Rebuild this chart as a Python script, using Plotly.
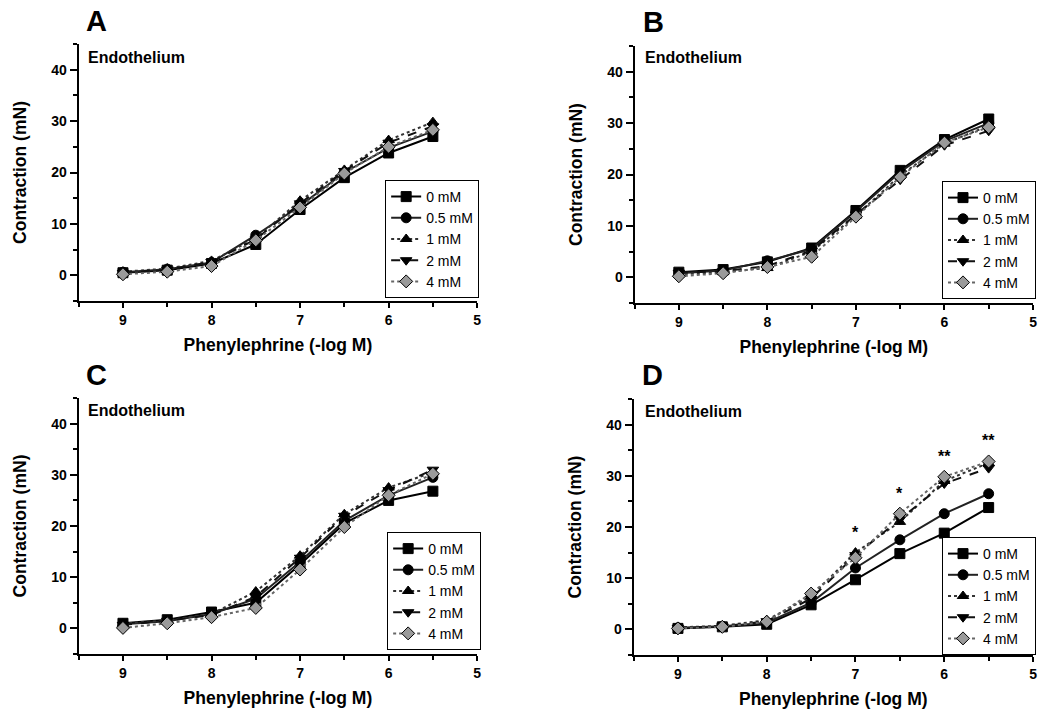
import plotly.graph_objects as go

# ---------------- data ----------------
doses = [9, 8.5, 8, 7.5, 7, 6.5, 6, 5.5]          # Phenylephrine (-log M)
series_names = ["0 mM", "0.5 mM", "1 mM", "2 mM", "4 mM"]

A_vals = {
    "0 mM":   [0.5, 1.0, 2.3, 6.0, 12.8, 19.0, 23.8, 27.0],
    "0.5 mM": [0.6, 1.2, 2.5, 7.8, 13.5, 20.0, 24.8, 28.0],
    "1 mM":   [0.7, 1.3, 2.8, 7.2, 14.5, 20.5, 26.3, 29.8],
    "2 mM":   [0.5, 1.1, 2.6, 7.0, 14.0, 20.3, 25.8, 29.0],
    "4 mM":   [0.2, 0.7, 1.8, 6.8, 13.2, 19.8, 25.0, 28.3],
}
B_vals = {
    "0 mM":   [1.0, 1.5, 3.0, 5.7, 13.0, 20.8, 26.8, 30.8],
    "0.5 mM": [0.8, 1.3, 3.2, 5.5, 12.8, 20.5, 26.5, 30.0],
    "1 mM":   [0.6, 1.0, 1.8, 5.0, 12.0, 19.8, 26.0, 29.5],
    "2 mM":   [0.9, 1.2, 2.2, 5.2, 12.2, 19.0, 25.7, 28.5],
    "4 mM":   [0.2, 0.8, 2.0, 4.0, 11.8, 19.5, 26.2, 29.2],
}
C_vals = {
    "0 mM":   [1.0, 1.7, 3.2, 5.0, 12.5, 20.5, 25.0, 26.8],
    "0.5 mM": [0.8, 1.4, 2.8, 5.8, 13.0, 21.0, 26.0, 29.5],
    "1 mM":   [0.9, 1.6, 2.8, 7.2, 14.2, 22.3, 27.5, 30.5],
    "2 mM":   [0.7, 1.5, 2.6, 6.2, 13.8, 22.0, 27.0, 31.0],
    "4 mM":   [0.1, 1.0, 2.2, 4.0, 11.5, 19.8, 26.0, 30.2],
}
D_vals = {
    "0 mM":   [0.2, 0.5, 1.0, 4.8, 9.7, 14.8, 18.8, 23.8],
    "0.5 mM": [0.3, 0.6, 1.3, 5.2, 12.0, 17.5, 22.6, 26.5],
    "1 mM":   [0.4, 0.7, 1.8, 6.5, 15.0, 21.0, 29.0, 32.5],
    "2 mM":   [0.3, 0.6, 1.6, 6.0, 14.5, 21.5, 28.5, 31.5],
    "4 mM":   [0.2, 0.5, 1.5, 7.0, 14.0, 22.6, 29.8, 32.8],
}
D_sig_x = [7, 6.5, 6, 5.5]
D_sig_labels = ["*", "*", "**", "**"]

panel_letters = ["A", "B", "C", "D"]
panel_note = "Endothelium"
x_title = "Phenylephrine (-log M)"
y_title = "Contraction (mN)"
x_ticks = [9, 8, 7, 6, 5]
y_ticks = [0, 10, 20, 30, 40]

# ---------------- styling ----------------
W, H = 1044, 717
FONT = "Liberation Sans, Arial, sans-serif"

styles = {
    "0 mM":   dict(symbol="square", mcolor="black", dash="solid", lcolor="black"),
    "0.5 mM": dict(symbol="circle", mcolor="black", dash="solid", lcolor="#222"),
    "1 mM":   dict(symbol="triangle-up", mcolor="black", dash="dot", lcolor="#333"),
    "2 mM":   dict(symbol="triangle-down", mcolor="black", dash="dash", lcolor="#111"),
    "4 mM":   dict(symbol="diamond", mcolor="#9a9a9a", dash="dot", lcolor="#666"),
}

# pixel boxes of each plot area: (left, right, top, bottom)
boxes = [(79, 479, 44, 301), (637, 1037, 46, 303), (79, 479, 398, 654), (636, 1037, 399, 655)]
legend_boxes = [(481, 180), (1040, 181), (483, 532), (1040, 537)]   # right, top
letter_pos = [(84, 21), (643, 22), (84, 375), (642, 375)]
note_pos = [(86, 57), (645, 58), (86, 410), (645, 412)]

panels = [A_vals, B_vals, C_vals, D_vals]

fig = go.Figure()
layout = dict(width=W, height=H, margin=dict(l=0, r=0, t=0, b=0),
              paper_bgcolor="white", plot_bgcolor="white",
              font=dict(family=FONT, color="black"))
annotations = []

for i, vals in enumerate(panels):
    n = i + 1
    xa = "x" if n == 1 else f"x{n}"
    ya = "y" if n == 1 else f"y{n}"
    lg = "legend" if n == 1 else f"legend{n}"
    for name in series_names:
        s = styles[name]
        fig.add_trace(go.Scatter(
            x=doses, y=vals[name], name=name, mode="lines+markers",
            xaxis=xa, yaxis=ya, legend=lg,
            line=dict(color=s["lcolor"], width=2, dash=s["dash"]),
            marker=dict(symbol=s["symbol"], size=10, color=s["mcolor"],
                        line=dict(color="black", width=1)),
        ))
    l, r, t, b = boxes[i]
    axis_common = dict(showline=True, linecolor="black", linewidth=2, showgrid=False,
                       zeroline=False, ticks="outside", tickwidth=2,
                       tickcolor="black", ticklabeloverflow="allow",
                       tickfont=dict(family=FONT, size=14, color="black", weight="bold"))
    layout["xaxis" if n == 1 else f"xaxis{n}"] = dict(
        axis_common, domain=[l / W, r / W], anchor=ya, range=[9.5, 5],
        tickvals=x_ticks, ticklen=5,
        minor=dict(dtick=0.5, ticks="outside", ticklen=4, tickwidth=2, tickcolor="black"),
        title=dict(text=x_title, standoff=12,
                   font=dict(family=FONT, size=17.5, color="black", weight="bold")))
    layout["yaxis" if n == 1 else f"yaxis{n}"] = dict(
        axis_common, domain=[1 - b / H, 1 - t / H], anchor=xa, range=[-5, 45],
        tickvals=y_ticks, ticklen=7,
        minor=dict(dtick=5, ticks="outside", ticklen=4, tickwidth=2, tickcolor="black"),
        title=dict(text=y_title, standoff=20,
                   font=dict(family=FONT, size=17.5, color="black", weight="bold")))
    lr, lt = legend_boxes[i]
    layout[lg] = dict(x=lr / W, y=1 - lt / H, xanchor="right", yanchor="top",
                      bgcolor="white", bordercolor="black", borderwidth=1,
                      font=dict(family=FONT, size=14, color="black"),
                      itemwidth=30)
    px_, py_ = letter_pos[i]
    annotations.append(dict(text=f"<b>{panel_letters[i]}</b>", x=px_ / W, y=1 - py_ / H,
                            xref="paper", yref="paper", xanchor="left", yanchor="middle",
                            showarrow=False, font=dict(family=FONT, size=29, color="black")))
    nx, ny = note_pos[i]
    annotations.append(dict(text=f"<b>{panel_note}</b>", x=nx / W, y=1 - ny / H,
                            xref="paper", yref="paper", xanchor="left", yanchor="middle",
                            showarrow=False, font=dict(family=FONT, size=16, color="black")))

# significance marks in panel D
for sx, lab in zip(D_sig_x, D_sig_labels):
    k = doses.index(sx)
    top = max(D_vals[nm][k] for nm in series_names)
    annotations.append(dict(text=f"<b>{lab}</b>", x=sx, y=top, xref="x4", yref="y4",
                            xanchor="center", yanchor="bottom", yshift=10, showarrow=False,
                            font=dict(family=FONT, size=16, color="black")))

layout["annotations"] = annotations
fig.update_layout(**layout)
fig.write_html("out.html", config={"displayModeBar": False},
               post_script="document.body.style.margin='0';")
